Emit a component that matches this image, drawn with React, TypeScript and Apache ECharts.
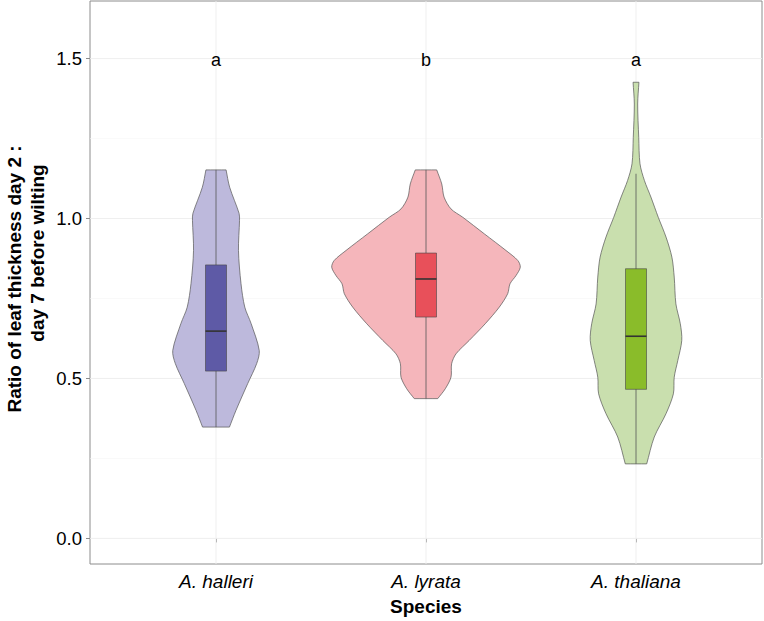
import React, { useEffect, useRef } from "react";
import * as echarts from "echarts";

const species = ["A. halleri", "A. lyrata", "A. thaliana"];
const letters = ["a", "b", "a"];
const letterY = 1.5;
const yTicks = [0, 0.5, 1.0, 1.5];
const yMinor = [0.25, 0.75, 1.25];
const xTicks = [1, 2, 3];

// violin outline: [value, half width in category units]
const halleriProfile = [
  [1.152, 0.048], [1.098, 0.065], [1.016, 0.110], [0.994, 0.112], [0.900, 0.107],
  [0.797, 0.119], [0.723, 0.137], [0.672, 0.167], [0.5875, 0.206], [0.547, 0.194],
  [0.484, 0.151], [0.400, 0.095], [0.348, 0.064],
];
const lyrataProfile = [
  [1.152, 0.051], [1.108, 0.075], [1.067, 0.086], [1.030, 0.119], [1.004, 0.175],
  [0.952, 0.278], [0.900, 0.381], [0.869, 0.437], [0.848, 0.449], [0.822, 0.429],
  [0.796, 0.400], [0.765, 0.389], [0.723, 0.349], [0.671, 0.282], [0.619, 0.206],
  [0.577, 0.143], [0.546, 0.122], [0.504, 0.119], [0.468, 0.092], [0.437, 0.056],
];
const thalianaProfile = [
  [1.426, 0.014], [1.358, 0.008], [1.254, 0.013], [1.171, 0.019], [1.119, 0.040],
  [1.067, 0.071], [1.004, 0.106], [0.942, 0.143], [0.879, 0.171], [0.817, 0.182],
  [0.733, 0.190], [0.671, 0.211], [0.619, 0.218], [0.556, 0.199], [0.504, 0.182],
  [0.452, 0.178], [0.390, 0.143], [0.317, 0.087], [0.233, 0.051],
];

// [lower whisker, Q1, median, Q3, upper whisker]
const halleriBox = [0.348, 0.523, 0.648, 0.855, 1.152];
const lyrataBox = [0.437, 0.692, 0.811, 0.892, 1.152];
const thalianaBox = [0.233, 0.466, 0.632, 0.843, 1.14];

const profiles = [halleriProfile, lyrataProfile, thalianaProfile];
const boxes = [halleriBox, lyrataBox, thalianaBox];

const violinFill = ["#bdb9dc", "#f5b6bb", "#c9dfae"];
const boxFill = ["#5e5aa6", "#e8505a", "#8abc2a"];

const Y_MIN = -0.08;
const Y_MAX = 1.68;
const X_MIN = 0.4;
const X_MAX = 3.6;
const BOX_HALF = 0.05;
const FONT = "'Liberation Sans', Arial, Helvetica, sans-serif";

export default function App() {
  const ref = useRef<HTMLDivElement>(null);
  useEffect(() => {
    if (!ref.current) return;
    const chart = echarts.init(ref.current, undefined, { renderer: "svg" });

    const gridData: number[][] = [
      ...yTicks.map((v) => [0, v, 1]),
      ...yMinor.map((v) => [0, v, 0]),
      ...xTicks.map((v) => [1, v, 1]),
    ];

    const option: any = {
      animation: false,
      backgroundColor: "#ffffff",
      grid: {
        left: 90,
        right: 2,
        top: 1,
        bottom: 55,
        show: true,
        borderColor: "#8c8c8c",
        borderWidth: 1,
        backgroundColor: "#ffffff",
        containLabel: false,
      },
      xAxis: {
        type: "value",
        min: X_MIN,
        max: X_MAX,
        splitLine: { show: false },
        axisLine: { show: false },
        axisTick: { show: true, customValues: xTicks, length: 4, lineStyle: { color: "#8c8c8c" } },
        axisLabel: {
          customValues: xTicks,
          formatter: (v: number) => species[Math.round(v) - 1] ?? "",
          fontFamily: FONT,
          fontStyle: "italic",
          fontSize: 19,
          color: "#000",
          margin: 8,
        },
        name: "Species",
        nameLocation: "middle",
        nameGap: 33,
        nameTextStyle: { fontFamily: FONT, fontWeight: "bold", fontSize: 19, color: "#000" },
      },
      yAxis: {
        type: "value",
        min: Y_MIN,
        max: Y_MAX,
        splitLine: { show: false },
        axisLine: { show: false },
        axisTick: { show: true, customValues: yTicks, length: 4, lineStyle: { color: "#8c8c8c" } },
        axisLabel: {
          customValues: yTicks,
          formatter: (v: number) => v.toFixed(1),
          fontFamily: FONT,
          fontSize: 18.5,
          color: "#000",
          margin: 8,
        },
      },
      graphic: [
        {
          type: "text",
          x: 14,
          y: 279,
          rotation: Math.PI / 2,
          style: {
            text: "Ratio of leaf thickness day 2 :",
            fontFamily: FONT,
            fontWeight: "bold",
            fontSize: 19,
            fill: "#000",
            align: "center",
            verticalAlign: "middle",
          },
        },
        {
          type: "text",
          x: 37.5,
          y: 253,
          rotation: Math.PI / 2,
          style: {
            text: "day 7 before wilting",
            fontFamily: FONT,
            fontWeight: "bold",
            fontSize: 19,
            fill: "#000",
            align: "center",
            verticalAlign: "middle",
          },
        },
      ],
      series: [
        {
          type: "custom",
          z: 1,
          silent: true,
          data: gridData,
          renderItem: (params: any, api: any) => {
            const orient = api.value(0);
            const v = api.value(1);
            const major = api.value(2) === 1;
            let p1, p2;
            if (orient === 0) {
              p1 = api.coord([X_MIN, v]);
              p2 = api.coord([X_MAX, v]);
            } else {
              p1 = api.coord([v, Y_MIN]);
              p2 = api.coord([v, Y_MAX]);
            }
            return {
              type: "line",
              shape: { x1: p1[0], y1: p1[1], x2: p2[0], y2: p2[1] },
              style: { stroke: major ? "#ededed" : "#f5f5f5", lineWidth: major ? 0.9 : 0.6 },
            };
          },
        },
        {
          type: "custom",
          z: 3,
          silent: true,
          data: xTicks.map((x) => [x]),
          encode: { x: 0 },
          renderItem: (params: any, api: any) => {
            const i = params.dataIndex;
            const xc = xTicks[i];
            const prof = profiles[i];
            const right = prof.map(([v, w]) => api.coord([xc + w, v]));
            const left = prof.map(([v, w]) => api.coord([xc - w, v])).reverse();
            // repeat the end points so the flat cut ends stay sharp when smoothed
            const pts = [
              right[0], ...right, right[right.length - 1],
              left[0], ...left, left[left.length - 1],
            ];
            const b = boxes[i];
            const wTop = api.coord([xc, b[4]]);
            const wBot = api.coord([xc, b[0]]);
            const q3 = api.coord([xc - BOX_HALF, b[3]]);
            const q1 = api.coord([xc + BOX_HALF, b[1]]);
            const mL = api.coord([xc - BOX_HALF, b[2]]);
            const mR = api.coord([xc + BOX_HALF, b[2]]);
            return {
              type: "group",
              children: [
                {
                  type: "polygon",
                  shape: { points: pts, smooth: 0.3 },
                  style: { fill: violinFill[i], stroke: "#555555", lineWidth: 0.7 },
                },
                {
                  type: "line",
                  shape: { x1: wTop[0], y1: wTop[1], x2: wBot[0], y2: wBot[1] },
                  style: { stroke: "#555555", lineWidth: 0.8 },
                },
                {
                  type: "rect",
                  shape: { x: q3[0], y: q3[1], width: q1[0] - q3[0], height: q1[1] - q3[1] },
                  style: { fill: boxFill[i], stroke: "#444444", lineWidth: 0.6 },
                },
                {
                  type: "line",
                  shape: { x1: mL[0], y1: mL[1], x2: mR[0], y2: mR[1] },
                  style: { stroke: "#333333", lineWidth: 1.6 },
                },
              ],
            };
          },
        },
        {
          type: "custom",
          z: 4,
          silent: true,
          data: xTicks.map((x) => [x, letterY]),
          encode: { x: 0, y: 1 },
          renderItem: (params: any, api: any) => {
            const p = api.coord([api.value(0), api.value(1)]);
            return {
              type: "text",
              x: p[0],
              y: p[1] + 1,
              style: {
                text: letters[params.dataIndex],
                fontFamily: FONT,
                fontSize: 18,
                fill: "#000",
                align: "center",
                verticalAlign: "middle",
              },
            };
          },
        },
      ],
    };
    chart.setOption(option);
    return () => chart.dispose();
  }, []);

  return (
    <div
      ref={ref}
      style={{ position: "absolute", left: 0, top: 0, width: 764, height: 621, background: "#fff" }}
    />
  );
}
